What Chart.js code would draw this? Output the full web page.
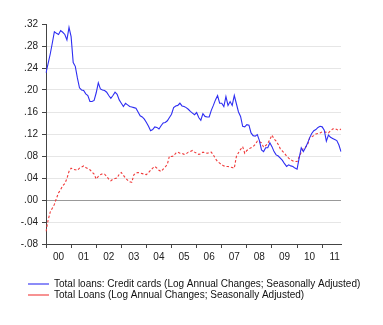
<!DOCTYPE html>
<html>
<head>
<meta charset="utf-8">
<script src="https://cdn.jsdelivr.net/npm/chart.js@4.4.0/dist/chart.umd.min.js"></script>
<style>
  body { margin: 0; background: #fff; }
  #wrap { width: 383px; height: 325px; }
</style>
</head>
<body>
<div id="wrap"><canvas id="loans-chart"></canvas></div>
<script>
// monthly observations, Jan 2000 .. Oct 2011
const years = ["00", "01", "02", "03", "04", "05", "06", "07", "08", "09", "10", "11"];
const lastMonthOf2011 = 10;

const creditCards = [
  0.231, 0.248, 0.265, 0.285, 0.306, 0.303, 0.301, 0.308, 0.305, 0.301, 0.291, 0.314,
  0.297, 0.250, 0.243, 0.222, 0.204, 0.200, 0.199, 0.193, 0.190, 0.179, 0.179, 0.181,
  0.195, 0.213, 0.202, 0.200, 0.199, 0.196, 0.190, 0.185, 0.190, 0.196, 0.192, 0.182,
  0.176, 0.170, 0.176, 0.173, 0.170, 0.169, 0.168, 0.167, 0.160, 0.153, 0.151, 0.147,
  0.141, 0.134, 0.126, 0.128, 0.133, 0.132, 0.129, 0.135, 0.140, 0.141, 0.144, 0.150,
  0.156, 0.168, 0.171, 0.172, 0.176, 0.171, 0.170, 0.168, 0.165, 0.161, 0.158, 0.155,
  0.159, 0.150, 0.145, 0.157, 0.152, 0.151, 0.151, 0.163, 0.172, 0.182, 0.190, 0.176,
  0.176, 0.170, 0.188, 0.172, 0.179, 0.172, 0.190, 0.175, 0.160, 0.152, 0.134, 0.133,
  0.137, 0.136, 0.122, 0.117, 0.116, 0.119, 0.108, 0.091, 0.088, 0.095, 0.095, 0.104,
  0.097, 0.088, 0.082, 0.080, 0.076, 0.072, 0.066, 0.061, 0.064, 0.062, 0.061, 0.058,
  0.056, 0.076, 0.095, 0.088, 0.095, 0.103, 0.113, 0.121, 0.126, 0.128, 0.132, 0.134,
  0.133, 0.127, 0.107, 0.118, 0.114, 0.112, 0.110, 0.108, 0.100, 0.088
];

const totalLoans = [
  -0.057, -0.037, -0.022, -0.015, -0.008, 0.003, 0.013, 0.019, 0.026, 0.030, 0.039, 0.052,
  0.058, 0.056, 0.055, 0.054, 0.058, 0.060, 0.062, 0.059, 0.057, 0.055, 0.051, 0.047,
  0.038, 0.043, 0.046, 0.048, 0.047, 0.043, 0.038, 0.035, 0.038, 0.039, 0.040, 0.047,
  0.050, 0.045, 0.040, 0.036, 0.033, 0.032, 0.046, 0.049, 0.050, 0.049, 0.048, 0.047,
  0.046, 0.050, 0.054, 0.058, 0.061, 0.058, 0.054, 0.052, 0.056, 0.060, 0.065, 0.080,
  0.079, 0.080, 0.085, 0.087, 0.085, 0.085, 0.083, 0.084, 0.087, 0.088, 0.090, 0.087,
  0.085, 0.083, 0.084, 0.087, 0.086, 0.085, 0.086, 0.087, 0.082, 0.075, 0.070, 0.067,
  0.064, 0.062, 0.061, 0.061, 0.060, 0.059, 0.058, 0.079, 0.086, 0.092, 0.097, 0.085,
  0.090, 0.093, 0.095, 0.097, 0.101, 0.107, 0.106, 0.104, 0.096, 0.099, 0.103, 0.110,
  0.118, 0.111, 0.107, 0.101, 0.093, 0.089, 0.085, 0.080, 0.076, 0.073, 0.071, 0.070,
  0.070, 0.078, 0.087, 0.094, 0.096, 0.100, 0.113, 0.115, 0.117, 0.120, 0.121, 0.122,
  0.124, 0.124, 0.123, 0.122, 0.126, 0.129, 0.130, 0.128, 0.127, 0.129
];

const seriesNames = [
  "Total loans: Credit cards (Log Annual Changes; Seasonally Adjusted)",
  "Total Loans (Log Annual Changes; Seasonally Adjusted)"
];

// one category per month, labelled by year
let months = [];
years.forEach(function(y, i) {
  let n = (i === years.length - 1) ? lastMonthOf2011 : 12;
  for (let m = 1; m <= n; m++) months.push(y + "-" + m);
});

const font = { family: "'Liberation Sans', Arial, sans-serif", size: 10 };
Chart.defaults.font = font;
Chart.defaults.color = "#222";

// legend sits indented under the plot, not flush with the canvas edge
const legendIndent = {
  id: "legendIndent",
  afterLayout: function(chart) {
    if (chart.legend) {
      chart.legend.left += 27;
      chart.legend.right += 27;
    }
  }
};

const chartData = {
  labels: months,
  datasets: [{
    label: seriesNames[0],
    data: creditCards,
    borderColor: "#2e2ef2",
    borderWidth: 1.1,
    pointRadius: 0,
    tension: 0
  }, {
    label: seriesNames[1],
    data: totalLoans,
    borderColor: "#f03a3a",
    borderWidth: 1.1,
    borderDash: [2.5, 2],
    pointRadius: 0,
    tension: 0
  }]
};

const chartOptions = {
  responsive: true,
  maintainAspectRatio: false,
  animation: false,
  layout: { padding: { left: 0, right: 42, top: 24, bottom: 15 } },
  plugins: {
    legend: {
      position: "bottom",
      align: "start",
      labels: {
        usePointStyle: true,
        pointStyle: "line",
        pointStyleWidth: 21,
        padding: 1,
        color: "#111",
        font: font
      }
    },
    tooltip: { enabled: false }
  },
  scales: {
    x: {
      type: "category",
      offset: false,
      border: { display: true, color: "#444", width: 1 },
      grid: { drawOnChartArea: false, drawTicks: true, tickLength: 4, tickColor: "#444" },
      afterBuildTicks: function(scale) {
        scale.ticks = scale.ticks.filter(function(t) { return t.value % 12 === 0; });
      },
      afterFit: function(scale) { scale.height = 34; },
      ticks: {
        autoSkip: false,
        maxRotation: 0,
        padding: 3,
        labelOffset: 12.5,
        color: "#222",
        callback: function(v) { return this.getLabelForValue(v).split("-")[0]; }
      }
    },
    y: {
      min: -0.08,
      max: 0.32,
      border: { display: true, color: "#444", width: 1 },
      grid: {
        drawTicks: true,
        tickLength: 4,
        tickColor: "#444",
        color: function(c) {
          if (!c.tick) return "#e6e6e6";
          if (Math.abs(c.tick.value) < 1e-6) return "#999";
          if (c.tick.value > 0.319) return "rgba(0,0,0,0)";
          return "#e6e6e6";
        }
      },
      afterFit: function(scale) { scale.width = 46; },
      ticks: {
        stepSize: 0.04,
        padding: 4,
        color: "#222",
        callback: function(v) { return v.toFixed(2).replace("0.", "."); }
      }
    }
  }
};

let loansChart = new Chart(document.getElementById("loans-chart"), {
  type: "line",
  data: chartData,
  options: chartOptions,
  plugins: [legendIndent]
});
</script>
</body>
</html>
